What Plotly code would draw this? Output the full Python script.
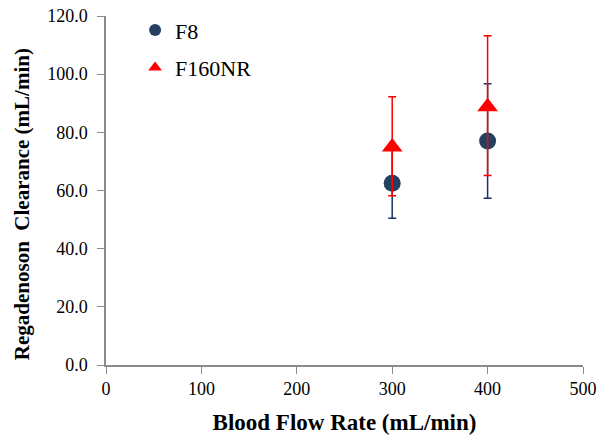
import plotly.graph_objects as go

flow = [300, 400]
f8_vals = [62.5, 77.0]
f8_err_plus = [12.0, 19.7]
f8_err_minus = [12.0, 19.7]
f160_vals = [75.0, 88.8]
f160_err_plus = [17.2, 24.4]
f160_err_minus = [16.8, 23.6]

font_fam = "Liberation Serif, Times New Roman, serif"

fig = go.Figure()
fig.add_trace(go.Scatter(
    x=flow, y=f8_vals, mode="markers", name="F8", legendgroup="a",
    marker=dict(symbol="circle", size=17, color="#243F60"),
    error_y=dict(type="data", symmetric=False, array=f8_err_plus, arrayminus=f8_err_minus,
                 color="#1F3068", thickness=1.5, width=4),
))
fig.add_trace(go.Scatter(
    x=flow, y=f160_vals, mode="markers", name="F160NR", legendgroup="b",
    marker=dict(symbol="triangle-up", size=18, color="#FF0000"),
    error_y=dict(type="data", symmetric=False, array=f160_err_plus, arrayminus=f160_err_minus,
                 color="#FF0000", thickness=1.5, width=4),
))

fig.update_layout(
    width=597, height=436,
    margin=dict(l=106, r=14, t=16, b=71, autoexpand=False),
    paper_bgcolor="white", plot_bgcolor="white",
    font=dict(family=font_fam, size=18, color="black"),
    legend=dict(x=0.061, y=0.979, xanchor="left", yanchor="top", yref="container",
                font=dict(size=22, family=font_fam), bgcolor="rgba(0,0,0,0)",
                itemsizing="constant", tracegroupgap=6, itemwidth=30),
    showlegend=True,
    annotations=[dict(
        text="<b>Regadenoson  Clearance (mL/min)</b>", textangle=-90,
        xref="paper", yref="paper", x=-0.176, y=0.461, xanchor="center", yanchor="middle",
        showarrow=False, font=dict(size=21, family=font_fam, color="black"),
    )],
)
fig.update_xaxes(
    range=[0, 500], tickvals=[0, 100, 200, 300, 400, 500],
    showline=True, linecolor="#8C8C8C", linewidth=1.5, automargin=False,
    ticks="outside", tickcolor="#8C8C8C", ticklen=7, showgrid=False, zeroline=False,
    tickfont=dict(size=18, family=font_fam),
    title=dict(text="<b>Blood Flow Rate (mL/min)</b>", font=dict(size=23, family=font_fam), standoff=16),
)
fig.update_yaxes(
    range=[0, 120], tickvals=[0, 20, 40, 60, 80, 100, 120],
    ticktext=["0.0", "20.0", "40.0", "60.0", "80.0", "100.0", "120.0"],
    showline=True, linecolor="#8C8C8C", linewidth=1.5, automargin=False,
    ticks="outside", tickcolor="#8C8C8C", ticklen=7, showgrid=False, zeroline=False,
    tickfont=dict(size=18, family=font_fam), ticklabelstandoff=6,
)

fig.write_html("out.html", post_script="document.body.style.margin='0';",
               config={"displayModeBar": False})
